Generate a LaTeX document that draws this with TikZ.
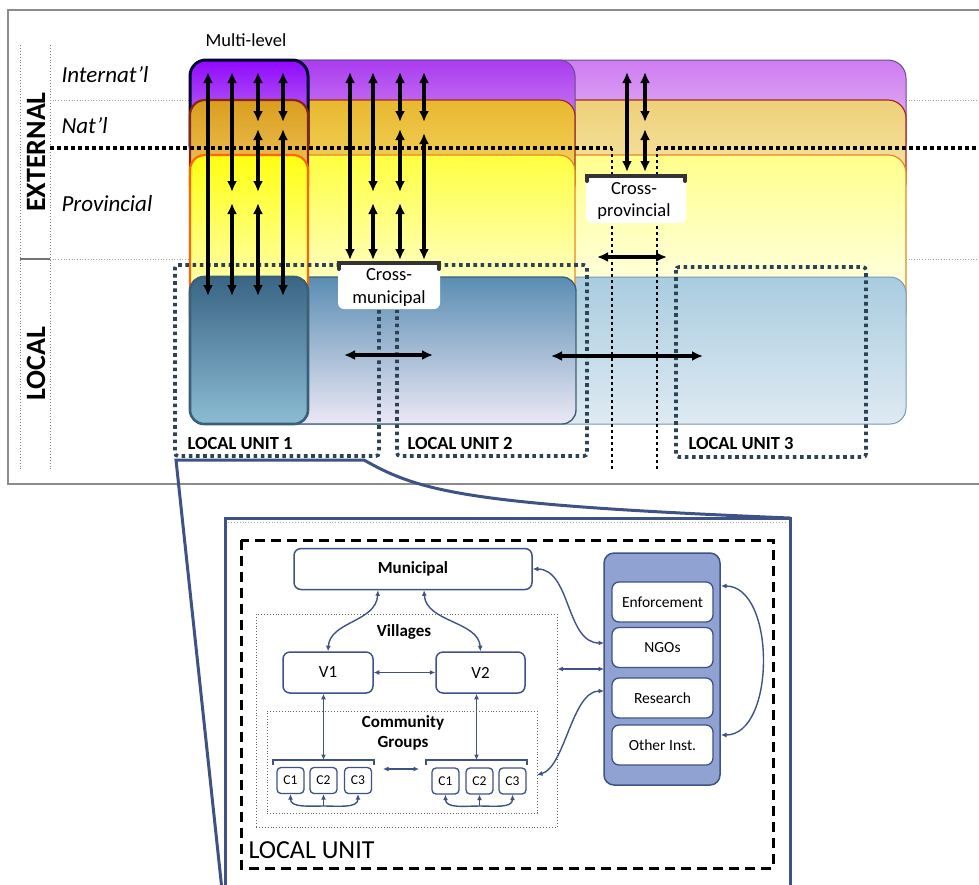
\documentclass[tikz,border=0pt]{standalone}
\usepackage{fontspec}
\setmainfont{Carlito}
\usetikzlibrary{arrows.meta,calc}
\definecolor{navy}{HTML}{3E5286}
\definecolor{slate}{HTML}{2B4352}
\definecolor{instfill}{HTML}{8FA2D2}
\definecolor{frame}{HTML}{8C8C8C}
% band colours
\definecolor{pA}{HTML}{9008FF}\definecolor{pAb}{HTML}{D0A0E4}
\definecolor{pB}{HTML}{AA3CF0}\definecolor{pBb}{HTML}{DCA0F0}
\definecolor{pC}{HTML}{CE7CF2}\definecolor{pCb}{HTML}{EAC8F2}
\definecolor{gA}{HTML}{DA9E1E}\definecolor{gAb}{HTML}{F4CE6A}
\definecolor{gB}{HTML}{E8B830}\definecolor{gBb}{HTML}{F6DA6A}
\definecolor{gC}{HTML}{EED078}\definecolor{gCb}{HTML}{F8E8B0}
\definecolor{yA}{HTML}{FFFF10}\definecolor{yAb}{HTML}{FFFFE0}
\definecolor{yB}{HTML}{FFFF40}\definecolor{yBb}{HTML}{FFFFF4}
\definecolor{yC}{HTML}{FFFF8C}\definecolor{yCb}{HTML}{FFFFFA}
\definecolor{bA}{HTML}{3A6585}\definecolor{bAb}{HTML}{8CBCD4}
\definecolor{bB}{HTML}{5A8DB3}\definecolor{bBb}{HTML}{ECE8F5}
\definecolor{bC}{HTML}{A9CCE0}\definecolor{bCb}{HTML}{DFEAF2}
\definecolor{pline}{HTML}{6A4A90}
\definecolor{gline}{HTML}{A52A1A}
\definecolor{yline}{HTML}{E38A22}
\definecolor{bline}{HTML}{3A6078}
\definecolor{bline3}{HTML}{7A98B0}
\begin{document}
\begin{tikzpicture}[x=1pt,y=-1pt,
  big/.style={line width=3.8pt,{Latex[length=11pt,width=10pt]}-{Latex[length=11pt,width=10pt]}},
  unitdots/.style={draw=slate,line width=3.6pt,dash pattern=on 3.6pt off 3.6pt},
  provdots/.style={draw=black,line width=2.6pt,dash pattern=on 2.6pt off 3.4pt},
  narr/.style={draw=navy,line width=1.4pt,{Latex[length=5.5pt,width=5pt]}-{Latex[length=5.5pt,width=5pt]}},
  lbox/.style={draw=navy,line width=1.5pt,rounded corners=7pt,fill=white,inner sep=0pt},
  cbox/.style={draw=navy,line width=1.3pt,rounded corners=4pt,fill=white,minimum width=27pt,minimum height=26pt,inner sep=0pt,font=\fontsize{13.5}{15}\selectfont},
  ibox/.style={draw=navy,line width=1.3pt,fill=white,rounded corners=7pt,minimum width=101pt,minimum height=40pt,inner sep=0pt,font=\fontsize{15.5}{18}\selectfont},
  whitebox/.style={fill=white,rounded corners=6pt},
  bracket/.style={draw=black!80,line width=4pt,line cap=round}
]
\useasboundingbox (0,0) rectangle (979,884);

% ---------- upper frame and guides ----------
\draw[frame,line width=1.5pt] (980,10) -- (8,10) -- (8,484) -- (980,484);
\draw[gray,dotted,line width=0.9pt] (20,45) -- (20,470);
\draw[gray,dotted,line width=0.9pt] (50,45) -- (50,470);
\draw[gray!90!black,line width=2pt] (20,259) -- (50,259);
\draw[gray!70,dotted,line width=0.7pt] (50,100) -- (980,100);
\draw[gray!70,dotted,line width=0.7pt] (50,259) -- (980,259);

\node[rotate=90,font=\bfseries\fontsize{28}{30}\selectfont] (ext) at (36,152) {EXTERNAL};
\node[rotate=90,font=\bfseries\fontsize{28}{30}\selectfont] (loc) at (36,364) {LOCAL};
\node[anchor=west,font=\itshape\fontsize{23}{26}\selectfont] (lint) at (58,75) {Internat’l};
\node[anchor=west,font=\itshape\fontsize{23}{26}\selectfont] (lnat) at (58,126) {Nat’l};
\node[anchor=west,font=\itshape\fontsize{23}{26}\selectfont] (lprov) at (58,204) {Provincial};
\node[font=\fontsize{18.5}{22}\selectfont] (mlev) at (246,40) {Multi-level};

% ---------- bands: column 3 (pale) ----------
\shadedraw[draw=pline,line width=1pt,rounded corners=18pt,top color=pC,bottom color=pCb] (190,60) rectangle (906,160);
\shadedraw[draw=gline,line width=1.2pt,rounded corners=18pt,top color=gC,bottom color=gCb] (190,100) rectangle (906,200);
\shadedraw[draw=yline,line width=1.2pt,rounded corners=18pt,top color=yC,bottom color=yCb] (190,155) rectangle (906,330);
\shadedraw[draw=bline3,line width=1pt,rounded corners=16pt,top color=bC,bottom color=bCb] (190,277) rectangle (906,424);
% ---------- bands: column 2 ----------
\shadedraw[draw=pline,line width=1pt,rounded corners=16pt,top color=pB,bottom color=pBb] (190,60) rectangle (575,160);
\shadedraw[draw=gline,line width=1.2pt,rounded corners=16pt,top color=gB,bottom color=gBb] (190,100) rectangle (575,200);
\shadedraw[draw=yline,line width=1.2pt,rounded corners=16pt,top color=yB,bottom color=yBb] (190,155) rectangle (575,330);
\shadedraw[draw=bline,line width=1.4pt,rounded corners=14pt,top color=bB,bottom color=bBb] (190,277) rectangle (576,424);
% ---------- bands: column 1 (multi-level) ----------
\shadedraw[draw=black!80!blue,line width=3pt,rounded corners=16pt,top color=pA,bottom color=pAb] (190,60) rectangle (308,160);
\shadedraw[draw=gline!85!black,line width=2.2pt,rounded corners=15pt,top color=gA,bottom color=gAb] (190,100) rectangle (308,200);
\shadedraw[draw=orange!80!red,line width=2.2pt,rounded corners=15pt,top color=yA,bottom color=yAb] (190,155) rectangle (308,330);
\shadedraw[draw=bline,line width=2.6pt,rounded corners=14pt,top color=bA,bottom color=bAb] (190,277) rectangle (308,424);

% ---------- dotted boundaries ----------
\draw[black,line width=3.5pt,dash pattern=on 3.5pt off 3.5pt] (50,148) -- (612,148);
\draw[black,line width=3.5pt,dash pattern=on 3.5pt off 3.5pt] (657,148) -- (980,148);
\draw[provdots] (612,148) -- (612,470);
\draw[provdots] (657,148) -- (657,470);
\draw[unitdots,rounded corners=3pt] (379,310) -- (379,456) -- (175,456) -- (175,265) -- (587,265) -- (587,456) -- (397,456) -- (397,310);
\draw[unitdots,rounded corners=3pt] (676,267) rectangle (866,457);

% ---------- label boxes ----------
\fill[whitebox] (338,265) rectangle (440,309);
\draw[bracket] (339,269) -- (339,263) -- (439,263) -- (439,269);
\node[align=center,font=\fontsize{18.5}{23}\selectfont] (cmun) at (389,287) {Cross-\\municipal};
\fill[whitebox] (586,176) rectangle (686,223);
\draw[bracket] (587,181) -- (587,176) -- (685,176) -- (685,181);
\node[align=center,font=\fontsize{18.5}{22}\selectfont] (cprov) at (634,201) {Cross-\\provincial};

% ---------- arrows ----------
\draw[big] (208,72) -- (208,296);
\draw[big] (232,72) -- (232,192);
\draw[big] (232,203) -- (232,296);
\draw[big] (258,72) -- (258,122);
\draw[big] (258,129) -- (258,192);
\draw[big] (258,203) -- (258,296);
\draw[big] (283,72) -- (283,122);
\draw[big] (283,129) -- (283,296);

\draw[big] (350,72) -- (350,260);
\draw[big] (373,72) -- (373,192);
\draw[big] (373,203) -- (373,260);
\draw[big] (400,72) -- (400,122);
\draw[big] (400,129) -- (400,192);
\draw[big] (400,203) -- (400,260);
\draw[big] (424,72) -- (424,122);
\draw[big] (424,133) -- (424,260);

\draw[big] (627,72) -- (627,172);
\draw[big] (645,72) -- (645,122);
\draw[big] (645,129) -- (645,172);

\draw[big] (344,355) -- (433,355);
\draw[big] (551,356) -- (703,356);
\draw[big] (597,257) -- (667,257);

\node[anchor=west,font=\bfseries\fontsize{18.5}{22}\selectfont] (lu1) at (184,443) {LOCAL UNIT 1};
\node[anchor=west,font=\bfseries\fontsize{18.5}{22}\selectfont] (lu2) at (404,443) {LOCAL UNIT 2};
\node[anchor=west,font=\bfseries\fontsize{18.5}{22}\selectfont] (lu3) at (685,443) {LOCAL UNIT 3};

% ---------- zoom connector and lower panel ----------
\draw[navy,line width=3pt] (222,890) -- (176,460) -- (364,460) .. controls (420,492) and (470,505) .. (790,518);
\draw[navy,line width=3pt] (225,890) -- (225,518) -- (790,518) -- (790,890);
\draw[gray!70,dotted,line width=0.9pt] (228,522) -- (787,522);
\draw[black,line width=3pt,dash pattern=on 10pt off 6pt] (241,540) rectangle (773,868);
\node[anchor=west,font=\fontsize{26}{30}\selectfont] (lunit) at (245,850) {LOCAL UNIT};

\node[draw=gray!80!black,dotted,line width=0.9pt,minimum width=301pt,minimum height=213pt,inner sep=0pt] (vil) at (406.5,720.5) {};
\node[draw=gray!80!black,dotted,line width=0.9pt,minimum width=270pt,minimum height=102pt,inner sep=0pt] (com) at (402,762) {};
\node[font=\bfseries\fontsize{17}{20}\selectfont] (villab) at (404,632) {Villages};
\node[align=center,font=\bfseries\fontsize{17}{20.5}\selectfont] (comlab) at (403,733) {Community\\Groups};

\node[lbox,minimum width=238pt,minimum height=41pt,font=\bfseries\fontsize{17}{20}\selectfont] (mun) at (413,569) {Municipal};
\node[lbox,minimum width=90pt,minimum height=41pt,font=\fontsize{17}{20}\selectfont] (V1) at (328,672.5) {V1};
\node[lbox,minimum width=89pt,minimum height=41pt,font=\fontsize{17}{20}\selectfont] (V2) at (480.5,672.5) {V2};

\draw[navy,line width=1.2pt] (273,765) -- (273,760) -- (374,760) -- (374,765);
\draw[navy,line width=1.2pt] (426,765) -- (426,760) -- (527,760) -- (527,765);
\coordinate (bL) at (323.5,760);
\coordinate (bR) at (476.5,760);

\node[cbox] (C1a) at (290.5,780.5) {C1};
\node[cbox] (C2a) at (323.5,780.5) {C2};
\node[cbox] (C3a) at (358,780.5) {C3};
\node[cbox] (C1b) at (445.5,781) {C1};
\node[cbox] (C2b) at (479.5,781) {C2};
\node[cbox] (C3b) at (512.5,781) {C3};

\node[draw=navy,line width=1.5pt,fill=instfill,rounded corners=10pt,minimum width=116pt,minimum height=232pt,inner sep=0pt] (inst) at (662,669) {};
\node[ibox] (enf) at (662.5,602) {Enforcement};
\node[ibox] (ngo) at (662.5,647.5) {NGOs};
\node[ibox] (res) at (662.5,698) {Research};
\node[ibox] (oth) at (662.5,745) {Other Inst.};

\coordinate (pm) at (604,643);
\coordinate (pv) at (604,669);
\coordinate (pc) at (604,691);
\coordinate (cg) at (537,775);
\coordinate (it) at (721,586);
\coordinate (ib) at (721,735);
\coordinate (hl) at (383,769);
\coordinate (hr) at (419,769);
\coordinate (j1) at (323.5,806);
\coordinate (j2) at (479.5,806);

\draw[narr] ($(mun.south)+(-35,0)$) .. controls +(-2,32) and +(2,-30) .. (V1.north);
\draw[narr] ($(mun.south)+(11,0)$) .. controls +(2,32) and +(-2,-30) .. (V2.north);
\draw[narr] (V1.east) -- (V2.west);
\draw[narr] (V1.south -| bL) -- (bL);
\draw[narr] (V2.south -| bR) -- (bR);
\draw[narr] (hl) -- (hr);
\draw[narr] (C1a.south) to[out=-90,in=180] (j1) to[out=0,in=-90] (C3a.south);
\draw[navy,line width=1.4pt,-{Latex[length=5.5pt,width=5pt]}] (j1) -- (C2a.south);
\draw[narr] (C1b.south) to[out=-90,in=180] (j2) to[out=0,in=-90] (C3b.south);
\draw[navy,line width=1.4pt,-{Latex[length=5.5pt,width=5pt]}] (j2) -- (C2b.south);

\draw[narr] (mun.east) .. controls +(38,0) and +(-38,0) .. (pm);
\draw[narr] (vil.east |- pv) -- (pv);
\draw[narr] (cg) .. controls +(28,-8) and +(-32,0) .. (pc);
\draw[narr] (it) .. controls +(55,0) and +(55,0) .. (ib);
\end{tikzpicture}
\end{document}
